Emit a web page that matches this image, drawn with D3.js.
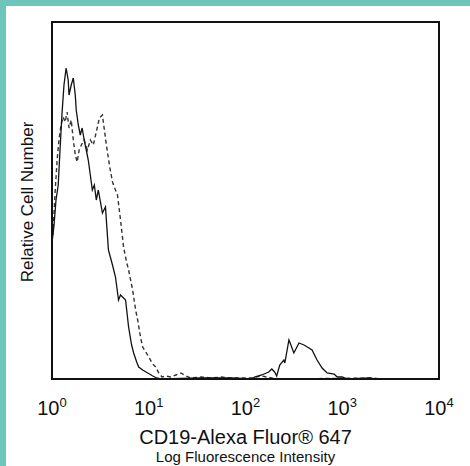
<html>
<head>
<meta charset="utf-8">
<script src="https://d3js.org/d3.v7.min.js"></script>
<style>
  body { margin: 0; background: #6ec5bb; }
  text { font-family: "Liberation Sans", Arial, sans-serif; fill: #111; }
</style>
</head>
<body>
<script>
// stained sample (solid) : intensity, relative cell number
var solidX = [1.00, 1.05, 1.10, 1.16, 1.21, 1.27, 1.33, 1.40, 1.47, 1.50, 1.58, 1.66, 1.74, 1.78, 1.87, 1.96,
  2.05, 2.15, 2.26, 2.37, 2.49, 2.61, 2.74, 2.87, 3.01, 3.32, 3.57, 3.83, 4.22, 4.53, 4.87, 5.11, 5.36, 5.76,
  6.19, 6.65, 6.98, 7.50, 7.87, 8.66, 9.76, 11.0, 12.1, 13.3, 34.8, 71.5, 115, 124, 147, 174, 187, 200, 210,
  226, 249, 255, 281, 287, 316, 357, 402, 453, 487, 549, 619, 698, 825, 887, 1000, 1130, 1950, 2150, 10000];
var solidY = [136, 154, 179, 194, 229, 266, 294, 311, 299, 284, 294, 301, 284, 269, 254, 244,
  251, 239, 229, 219, 204, 189, 194, 179, 189, 166, 172, 129, 114, 102, 79, 84, 82, 79,
  52, 34, 26, 17, 12, 9, 6, 3, 1, 0, 1, 1, 0, 2, 4, 7, 10, 7, 3,
  14, 19, 16, 39, 37, 26, 36, 34, 31, 29, 19, 11, 6, 5, 2, 2, 0, 1, 0, 0];

// isotype control (dashed)
var ctrlX = [1.02, 1.08, 1.13, 1.18, 1.24, 1.30, 1.37, 1.43, 1.50, 1.58, 1.66, 1.74, 1.82, 1.91, 2.01, 2.15,
  2.32, 2.49, 2.67, 2.87, 3.09, 3.32, 3.48, 3.65, 3.92, 4.22, 4.53, 4.75, 5.11, 5.49, 5.90, 6.19, 6.81, 7.32,
  7.68, 8.25, 8.66, 9.31, 10.0, 11.0, 11.8, 12.7, 13.7, 15.0, 16.9, 19.1, 21.5, 24.3, 27.4, 34.8, 44.2, 56.2,
  71.5, 115, 147, 187, 237, 2040, 2610, 10000];
var ctrlY = [144, 189, 219, 239, 254, 262, 257, 267, 251, 259, 239, 224, 217, 229, 234, 239,
  229, 239, 234, 247, 261, 264, 249, 234, 214, 197, 189, 184, 159, 132, 117, 109, 89, 69,
  59, 41, 32, 27, 22, 15, 12, 6, 2, 3, 2, 4, 6, 3, 1, 2, 1, 2,
  1, 1, 3, 1, 0, 1, 0, 0];

var tickValues = [1, 10, 100, 1000, 10000];
var tickExp = ["0", "1", "2", "3", "4"];
var xTitle = "CD19-Alexa Fluor® 647";
var xSubTitle = "Log Fluorescence Intensity";
var yTitle = "Relative Cell Number";

var w = 470, h = 466;
var svg = d3.select("body").append("svg")
  .attr("width", w).attr("height", h)
  .style("display", "block");

// white card on the teal page
svg.append("rect")
  .attr("x", 6).attr("y", 6)
  .attr("width", w - 6).attr("height", h - 6)
  .attr("fill", "white");

// (window.top is read-only, so no "top" here)
var boxL = 52, boxR = 439, boxT = 22, boxB = 379;

var x = d3.scaleLog().domain([1, 10000]).range([boxL, boxR]);
var y = d3.scaleLinear().domain([0, 357]).range([boxB, boxT]);

var line = d3.line()
  .x(function(d) { return x(d[0]); })
  .y(function(d) { return y(d[1]); });

var ctrl = d3.zip(ctrlX, ctrlY);
var solid = d3.zip(solidX, solidY);

svg.append("path")
  .datum(ctrl)
  .attr("d", line)
  .attr("fill", "none")
  .attr("stroke", "#333")
  .attr("stroke-width", 1.4)
  .attr("stroke-dasharray", "4,3");

svg.append("path")
  .datum(solid)
  .attr("d", line)
  .attr("fill", "none")
  .attr("stroke", "#111")
  .attr("stroke-width", 1.3);

// frame
svg.append("rect")
  .attr("x", boxL).attr("y", boxT)
  .attr("width", boxR - boxL).attr("height", boxB - boxT)
  .attr("fill", "none")
  .attr("stroke", "#111")
  .attr("stroke-width", 2);

// decade labels
var lab = svg.selectAll(".tick")
  .data(tickValues)
  .enter().append("text")
  .attr("class", "tick")
  .attr("x", function(d) { return x(d); })
  .attr("y", 415)
  .attr("text-anchor", "middle")
  .style("font-size", "20px");
lab.append("tspan").text("10");
lab.append("tspan")
  .attr("dy", -8)
  .style("font-size", "13px")
  .text(function(d, i) { return tickExp[i]; });

svg.append("text")
  .attr("x", (boxL + boxR) / 2)
  .attr("y", 444)
  .attr("text-anchor", "middle")
  .style("font-size", "20px")
  .text(xTitle);

svg.append("text")
  .attr("x", (boxL + boxR) / 2)
  .attr("y", 462)
  .attr("text-anchor", "middle")
  .style("font-size", "15px")
  .text(xSubTitle);

svg.append("text")
  .attr("transform", "translate(33,202) rotate(-90)")
  .attr("text-anchor", "middle")
  .style("font-size", "17px")
  .text(yTitle);
</script>
</body>
</html>
